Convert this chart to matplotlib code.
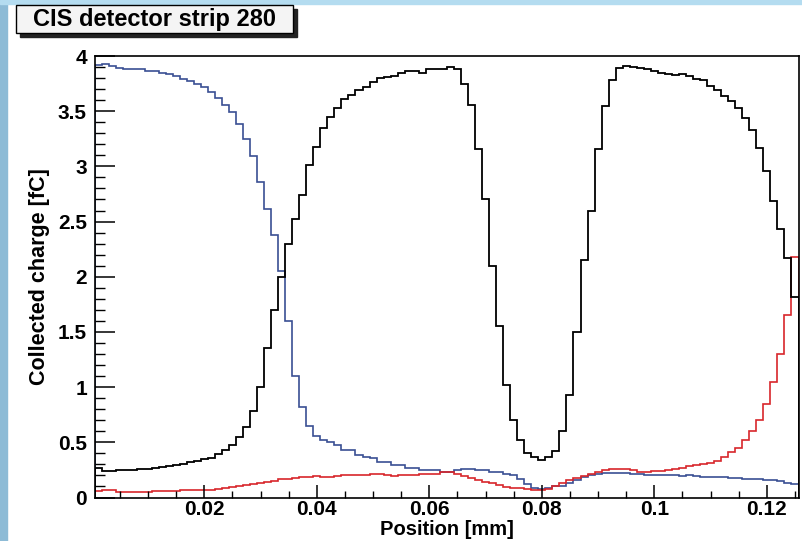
import numpy as np
import matplotlib
matplotlib.use("Agg")
import matplotlib.pyplot as plt
from matplotlib.patches import Rectangle

plt.rcParams['font.family'] = ['Liberation Sans', 'DejaVu Sans']

# histogram binning: 100 bins of 0.00125 mm
x_lo = 0.000625
bin_w = 0.00125
n_bins = 100

# strip 280 (black)
q_280 = [0.265, 0.243, 0.243, 0.246, 0.25, 0.25, 0.255, 0.26, 0.27, 0.28,
         0.285, 0.29, 0.30, 0.32, 0.33, 0.35, 0.36, 0.39, 0.43, 0.48,
         0.55, 0.64, 0.78, 1.0, 1.35, 1.7, 2.0, 2.3, 2.52, 2.74,
         3.01, 3.18, 3.35, 3.45, 3.53, 3.61, 3.65, 3.69, 3.72, 3.76,
         3.80, 3.81, 3.82, 3.85, 3.86, 3.86, 3.85, 3.88, 3.88, 3.88,
         3.90, 3.88, 3.75, 3.56, 3.16, 2.70, 2.10, 1.55, 1.02, 0.70,
         0.52, 0.40, 0.37, 0.34, 0.37, 0.42, 0.60, 0.93, 1.50, 2.15,
         2.60, 3.16, 3.55, 3.78, 3.89, 3.91, 3.90, 3.89, 3.88, 3.86,
         3.85, 3.84, 3.83, 3.84, 3.82, 3.79, 3.78, 3.73, 3.69, 3.64,
         3.59, 3.53, 3.44, 3.33, 3.17, 2.96, 2.69, 2.43, 2.17, 1.82]

# neighbour strip (blue)
q_left = [3.92, 3.93, 3.91, 3.89, 3.88, 3.88, 3.88, 3.86, 3.86, 3.85,
          3.84, 3.82, 3.79, 3.77, 3.75, 3.72, 3.67, 3.62, 3.56, 3.49,
          3.38, 3.25, 3.09, 2.86, 2.61, 2.38, 2.05, 1.60, 1.10, 0.82,
          0.65, 0.56, 0.52, 0.50, 0.476, 0.43, 0.43, 0.385, 0.37, 0.355,
          0.32, 0.32, 0.29, 0.29, 0.265, 0.265, 0.25, 0.245, 0.245, 0.23,
          0.23, 0.25, 0.26, 0.255, 0.25, 0.25, 0.235, 0.23, 0.21, 0.20,
          0.17, 0.12, 0.09, 0.08, 0.085, 0.10, 0.10, 0.13, 0.16, 0.19,
          0.205, 0.21, 0.225, 0.225, 0.22, 0.22, 0.215, 0.21, 0.205, 0.205,
          0.20, 0.20, 0.20, 0.195, 0.20, 0.195, 0.19, 0.19, 0.185, 0.185,
          0.18, 0.175, 0.17, 0.17, 0.165, 0.16, 0.155, 0.15, 0.13, 0.125]

# neighbour strip (red)
q_right = [0.062, 0.068, 0.068, 0.053, 0.047, 0.047, 0.053, 0.053, 0.06, 0.06,
           0.062, 0.062, 0.065, 0.068, 0.068, 0.068, 0.07, 0.08, 0.09, 0.098,
           0.107, 0.113, 0.125, 0.134, 0.143, 0.152, 0.164, 0.17, 0.18, 0.183,
           0.19, 0.195, 0.183, 0.19, 0.195, 0.20, 0.203, 0.203, 0.206, 0.21,
           0.21, 0.206, 0.195, 0.20, 0.203, 0.206, 0.21, 0.213, 0.216, 0.23,
           0.23, 0.21, 0.195, 0.173, 0.158, 0.143, 0.13, 0.115, 0.098, 0.09,
           0.083, 0.075, 0.068, 0.068, 0.074, 0.10, 0.13, 0.158, 0.18, 0.195,
           0.215, 0.23, 0.25, 0.255, 0.255, 0.255, 0.25, 0.235, 0.235, 0.24,
           0.24, 0.25, 0.26, 0.27, 0.285, 0.29, 0.30, 0.31, 0.33, 0.37,
           0.415, 0.45, 0.52, 0.60, 0.70, 0.85, 1.05, 1.30, 1.65, 2.18]

edges = x_lo + bin_w * np.arange(n_bins + 1)

fig = plt.figure(figsize=(8.02, 5.41), dpi=100)
fig.patch.set_facecolor('white')

# light blue strips of the canvas border
fig.patches.append(Rectangle((0, 0), 7 / 802, 1, transform=fig.transFigure,
                             color='#8dbbd6', zorder=-5))
fig.patches.append(Rectangle((0, 1 - 4 / 541), 1, 4 / 541, transform=fig.transFigure,
                             color='#b4dcf0', zorder=-5))

ax = fig.add_axes([95.3 / 802, 1 - 497.5 / 541, 703.2 / 802, 441.5 / 541])

ax.stairs(q_left, edges, color='#3a4f93', lw=1.2)
ax.stairs(q_right, edges, color='#d8262b', lw=1.2)
ax.stairs(q_280, edges, color='black', lw=1.3)

ax.set_xlim(edges[0], edges[-1])
ax.set_ylim(0, 4)

ax.set_xticks([0.02, 0.04, 0.06, 0.08, 0.1, 0.12])
ax.set_xticklabels(['0.02', '0.04', '0.06', '0.08', '0.1', '0.12'])
ax.set_xticks(np.arange(0.005, 0.126, 0.005), minor=True)
ax.set_yticks([0, 0.5, 1, 1.5, 2, 2.5, 3, 3.5, 4])
ax.set_yticklabels(['0', '0.5', '1', '1.5', '2', '2.5', '3', '3.5', '4'])
ax.set_yticks(np.arange(0, 4.01, 0.1), minor=True)

ax.tick_params(axis='x', which='major', direction='in', length=9.5, width=1.1,
               labelsize=15, pad=1.5)
ax.tick_params(axis='x', which='minor', direction='in', length=5, width=1.0)
ax.tick_params(axis='y', which='major', direction='in', length=14.5, width=1.1,
               labelsize=15, pad=6)
ax.tick_params(axis='y', which='minor', direction='in', length=7.5, width=1.0)
for lab in ax.get_xticklabels() + ax.get_yticklabels():
    lab.set_fontweight('bold')
for s in ax.spines.values():
    s.set_linewidth(1.2)

ax.set_xlabel('Position [mm]', fontsize=14.5, fontweight='bold', va='baseline')
ax.xaxis.set_label_coords(0.5, -0.085)
ax.set_ylabel('Collected charge [fC]', fontsize=15.5, fontweight='bold')
ax.yaxis.set_label_coords(-0.064, 0.5)

# title box with shadow (ROOT style)
fig.patches.append(Rectangle((20 / 802, 1 - 37 / 541), 277 / 802, 28 / 541,
                             transform=fig.transFigure, color='#222222', zorder=1))
fig.patches.append(Rectangle((16 / 802, 1 - 33 / 541), 277 / 802, 28 / 541,
                             transform=fig.transFigure, facecolor='#f4f4f4',
                             edgecolor='black', lw=1.0, zorder=2))
fig.text(154.5 / 802, 1 - 19.5 / 541, 'CIS detector strip 280', ha='center', va='center',
         fontsize=17, fontweight='bold', zorder=3)

fig.savefig('out.png', dpi=100)
